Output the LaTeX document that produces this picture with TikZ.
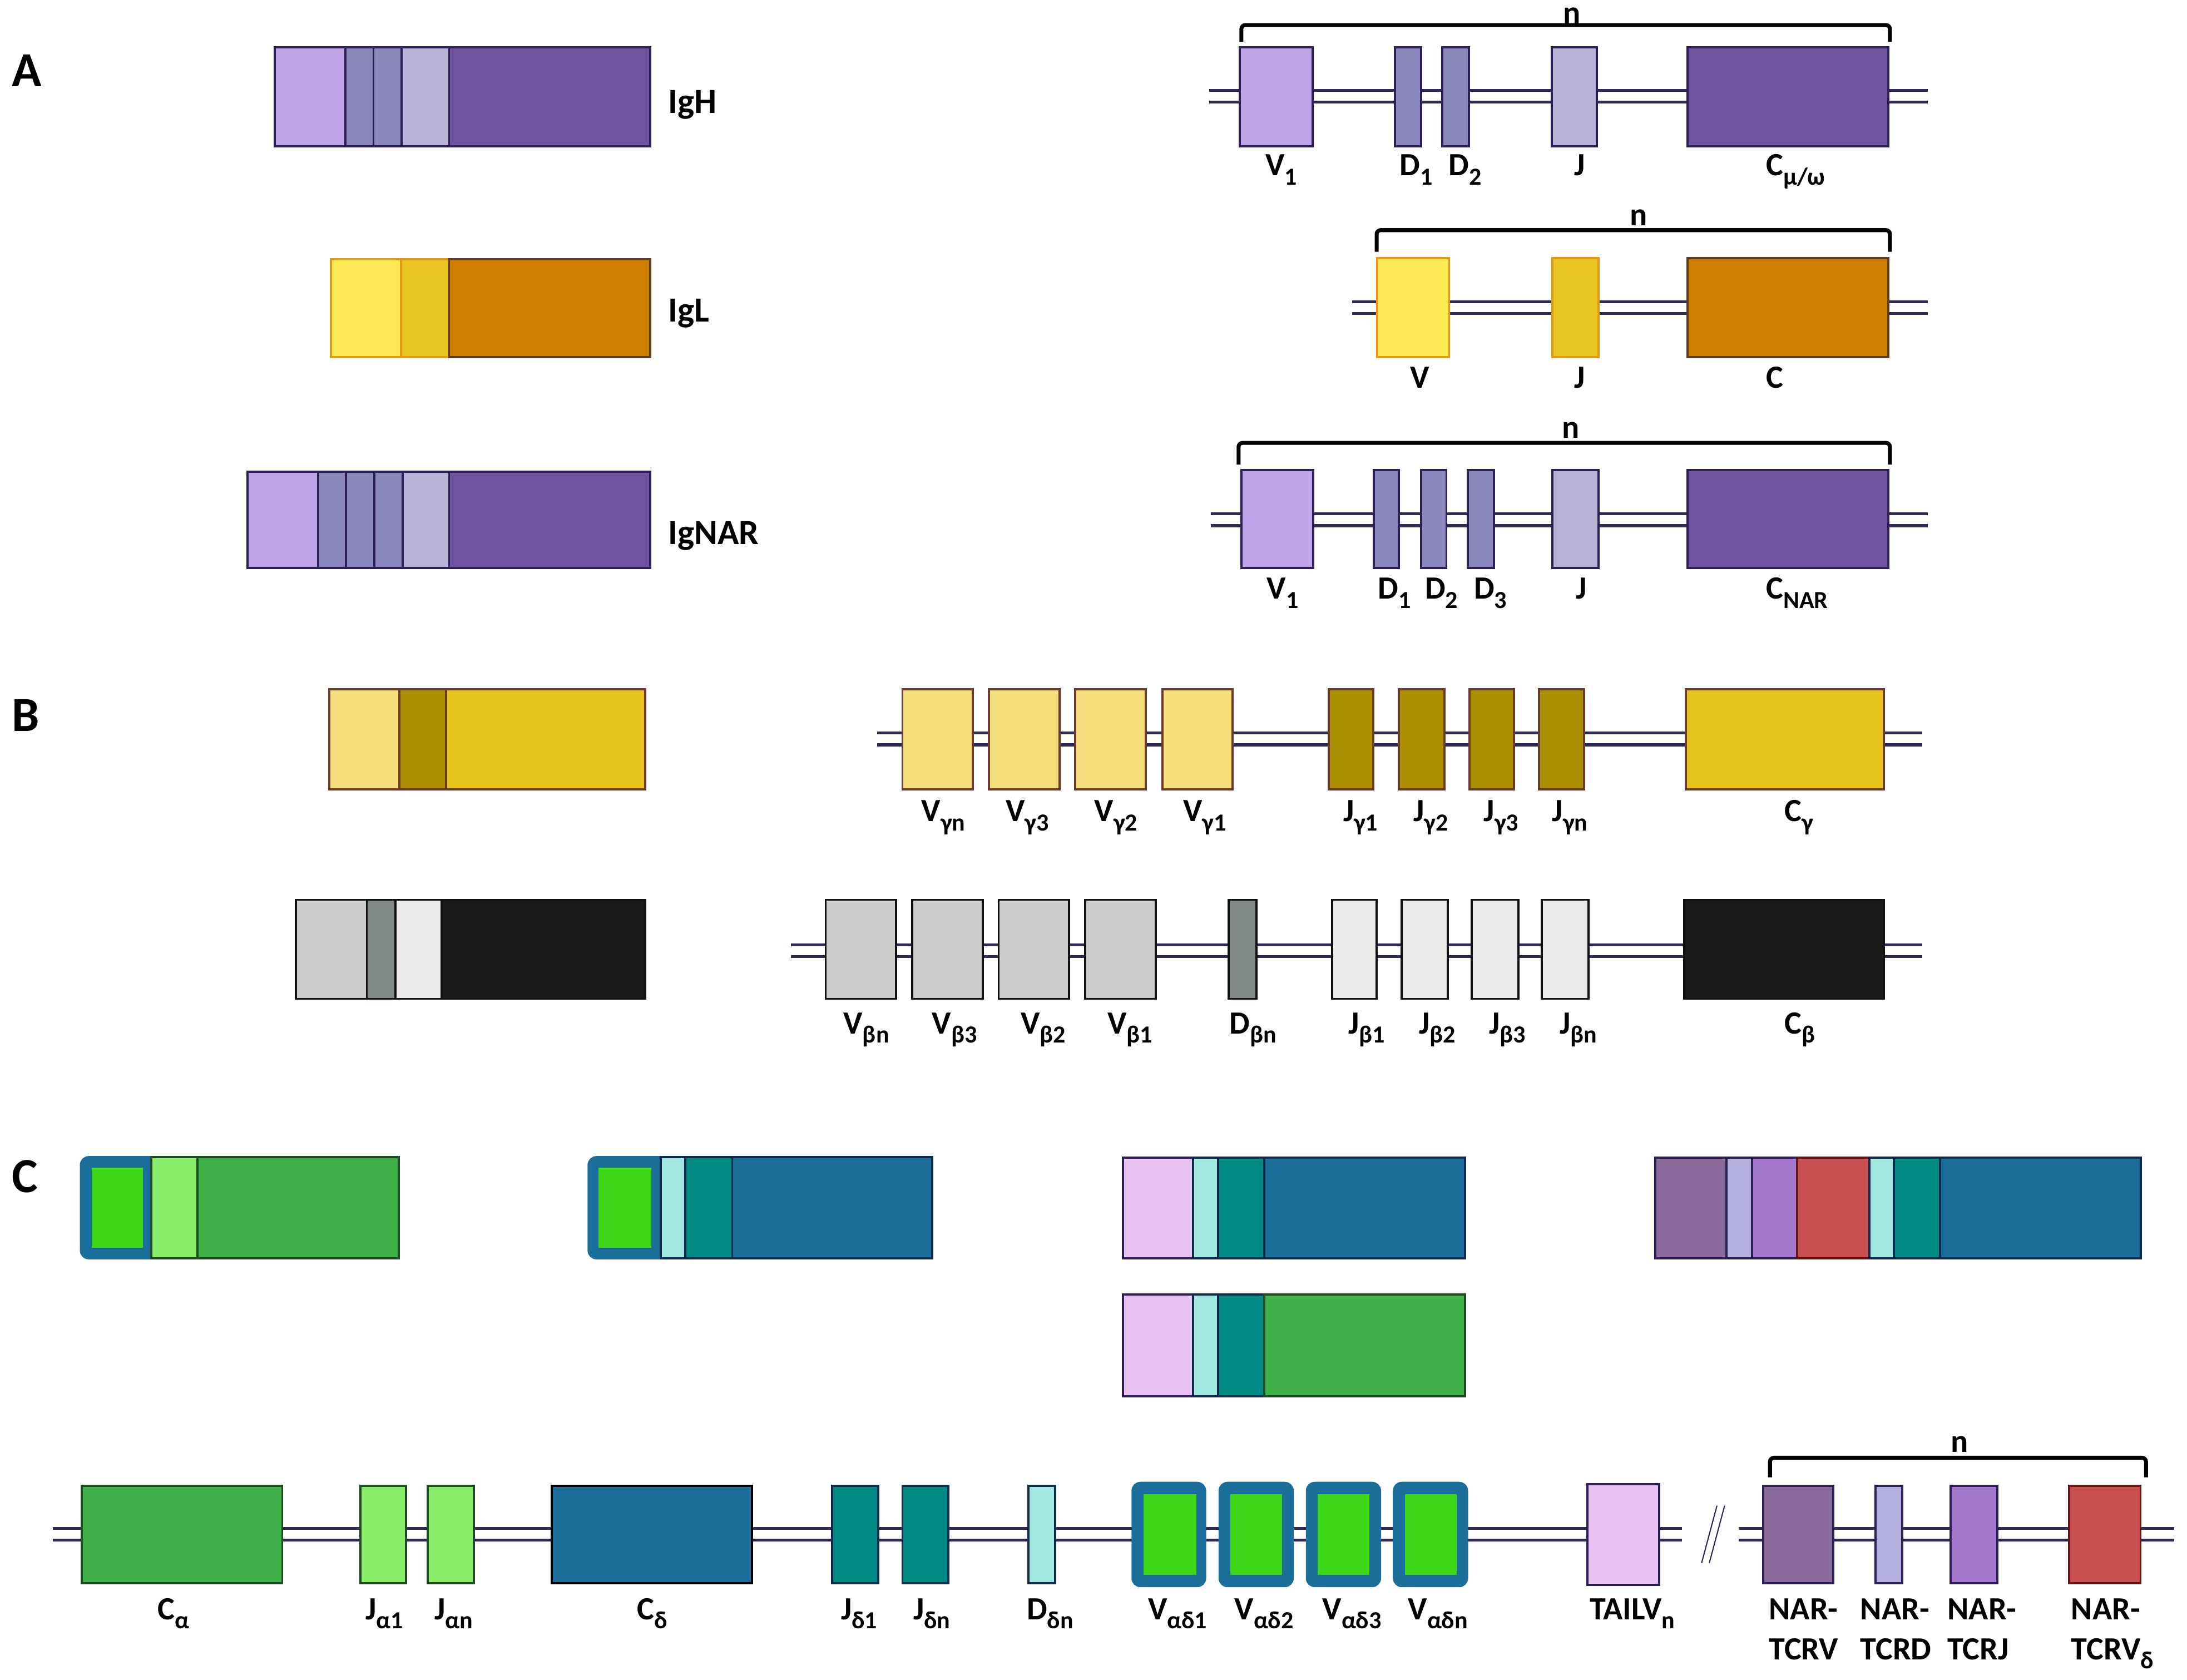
\documentclass[tikz,border=0pt]{standalone}
\usepackage{fontspec}
\setmainfont{Carlito}
\definecolor{aV}{HTML}{BFA5E8}\definecolor{aD}{HTML}{8A87BC}\definecolor{aJ}{HTML}{B9B3D8}
\definecolor{aC}{HTML}{7054A0}\definecolor{aB}{HTML}{2B1F55}
\definecolor{lV}{HTML}{FFE955}\definecolor{lJ}{HTML}{E8C520}\definecolor{lC}{HTML}{D08000}
\definecolor{lO}{HTML}{E39A12}\definecolor{lBr}{HTML}{5E3A1E}
\definecolor{gV}{HTML}{F5DF7A}\definecolor{gJ}{HTML}{AD8F05}\definecolor{gC}{HTML}{E8C41E}\definecolor{gB}{HTML}{6B3A2A}
\definecolor{bV}{HTML}{CCCCCC}\definecolor{bD}{HTML}{838A8A}\definecolor{bJ}{HTML}{EBEBEB}\definecolor{bC}{HTML}{1A1A1A}\definecolor{bB}{HTML}{111111}
\definecolor{caG}{HTML}{40B048}\definecolor{jaG}{HTML}{88EE6A}\definecolor{vG}{HTML}{3DD617}\definecolor{vF}{HTML}{1B6E9A}
\definecolor{cdB}{HTML}{1B6E9A}\definecolor{jdT}{HTML}{008C84}\definecolor{ddC}{HTML}{A0E8E0}\definecolor{tP}{HTML}{E8C2F2}
\definecolor{nV}{HTML}{8A6A9A}\definecolor{nD}{HTML}{B4B0E0}\definecolor{nJ}{HTML}{A478CE}\definecolor{nR}{HTML}{C85050}
\definecolor{gBd}{HTML}{1F4A22}\definecolor{bBd}{HTML}{0F2A4A}\definecolor{rBd}{HTML}{6A1515}\definecolor{bbcol}{HTML}{2E2A55}
\newcommand\genebox[8][]{\node[seg,fill=#7,draw=#8,minimum width={(#4-#3)*0.025cm},minimum height={(#6-#5)*0.025cm},#1] (#2) at ({(#3+#4)/2},{(#5+#6)/2}) {};}
\newcommand\glab[4]{\node[lbl] (#1) at (#2,#3) {#4};}
\newcommand\gsub[1]{\raisebox{-0.28em}{\fontsize{12.5}{13}\selectfont #1}}
\begin{document}
\begin{tikzpicture}[x=0.025cm,y=-0.025cm,
  seg/.style={rectangle,inner sep=0pt,outer sep=0pt,line width=1.1pt},
  lbl/.style={font=\fontsize{16.5}{19}\selectfont\bfseries,inner sep=0pt,anchor=base west},
  plbl/.style={font=\fontsize{18}{21}\selectfont\bfseries,inner sep=0pt,anchor=base west},
  panel/.style={font=\fontsize{25}{30}\selectfont\bfseries,inner sep=0pt,anchor=base west},
  nlbl/.style={font=\fontsize{16.5}{19}\selectfont\bfseries,inner sep=0pt,anchor=base},
  bb/.style={draw=bbcol,line width=1.5pt,double=white,double distance=4.6pt},
  brk/.style={draw=black,line width=2pt,rounded corners=2pt}]
\useasboundingbox (0,0) rectangle (1568,1204);
% ---------------- Panel A ----------------
\node[panel] (pA) at (8.3,62) {A};
% IgH protein
\genebox{pHv}{197}{247.5}{34}{105}{aV}{aB}
\genebox{pHd1}{247.5}{267.8}{34}{105}{aD}{aB}
\genebox{pHd2}{267.8}{288}{34}{105}{aD}{aB}
\genebox{pHj}{288}{322}{34}{105}{aJ}{aB}
\genebox{pHc}{322}{466}{34}{105}{aC}{aB}
\node[plbl] (tIgH) at (478.8,81) {IgH};
% IgL protein
\genebox{pLv}{237.4}{287.6}{186}{256}{lV}{lO}
\genebox{pLj}{287.6}{322}{186}{256}{lJ}{lO}
\genebox{pLc}{322}{466}{186}{256}{lC}{lBr}
\node[plbl] (tIgL) at (478.8,230.8) {IgL};
% IgNAR protein
\genebox{pNv}{177.5}{228}{338}{407}{aV}{aB}
\genebox{pNd1}{228}{248}{338}{407}{aD}{aB}
\genebox{pNd2}{248}{268.4}{338}{407}{aD}{aB}
\genebox{pNd3}{268.4}{288.6}{338}{407}{aD}{aB}
\genebox{pNj}{288.6}{322}{338}{407}{aJ}{aB}
\genebox{pNc}{322}{466}{338}{407}{aC}{aB}
\node[plbl] (tIgNAR) at (478.8,390.2) {IgNAR};
% IgH locus
\coordinate (r1L) at (867,69); \coordinate (r1R) at (1382,69);
\draw[bb] (r1L) -- (r1R);
\genebox{h1v}{889}{941}{34}{105}{aV}{aB}
\genebox{h1d1}{1000}{1019}{34}{105}{aD}{aB}
\genebox{h1d2}{1034}{1053}{34}{105}{aD}{aB}
\genebox{h1j}{1112.6}{1145}{34}{105}{aJ}{aB}
\genebox{h1c}{1210}{1354}{34}{105}{aC}{aB}
\glab{lh1v}{907}{126}{V\gsub{1}}
\glab{lh1d1}{1003.3}{126}{D\gsub{1}}
\glab{lh1d2}{1038.3}{126}{D\gsub{2}}
\glab{lh1j}{1128.5}{126}{J}
\glab{lh1c}{1266}{126}{C\gsub{μ/ω}}
\coordinate (b1a) at (890,30); \coordinate (b1b) at (1355,30);
\draw[brk] (b1a) -- ++(0,-12) -| (b1b);
\node[nlbl] (n1) at (1127,17) {n};
% IgL locus
\coordinate (r2L) at (969.6,220.5); \coordinate (r2R) at (1382,220.5);
\draw[bb] (r2L) -- (r2R);
\genebox{h2v}{987.5}{1039}{185}{256}{lV}{lO}
\genebox{h2j}{1113}{1146}{185}{256}{lJ}{lO}
\genebox{h2c}{1210}{1354}{185}{256}{lC}{lBr}
\glab{lh2v}{1010.9}{278.3}{V}
\glab{lh2j}{1128.5}{278.3}{J}
\glab{lh2c}{1266}{278.3}{C}
\coordinate (b2a) at (987,180.5); \coordinate (b2b) at (1355,180.5);
\draw[brk] (b2a) -- ++(0,-15.5) -| (b2b);
\node[nlbl] (n2) at (1175,161.7) {n};
% IgNAR locus
\coordinate (r3L) at (868,372.5); \coordinate (r3R) at (1382,372.5);
\draw[bb] (r3L) -- (r3R);
\genebox{h3v}{890}{941.5}{337}{407}{aV}{aB}
\genebox{h3d1}{985}{1003}{337}{407}{aD}{aB}
\genebox{h3d2}{1019}{1037}{337}{407}{aD}{aB}
\genebox{h3d3}{1052.5}{1071}{337}{407}{aD}{aB}
\genebox{h3j}{1113}{1146}{337}{407}{aJ}{aB}
\genebox{h3c}{1210}{1354}{337}{407}{aC}{aB}
\glab{lh3v}{908}{429.4}{V\gsub{1}}
\glab{lh3d1}{987.8}{429.4}{D\gsub{1}}
\glab{lh3d2}{1021.5}{429.4}{D\gsub{2}}
\glab{lh3d3}{1056.5}{429.4}{D\gsub{3}}
\glab{lh3j}{1129.5}{429.4}{J}
\glab{lh3c}{1266}{429.4}{C\gsub{NAR}}
\coordinate (b3a) at (888,333); \coordinate (b3b) at (1355,333);
\draw[brk] (b3a) -- ++(0,-15.5) -| (b3b);
\node[nlbl] (n3) at (1126,313.9) {n};
% ---------------- Panel B ----------------
\node[panel] (pB) at (8.3,524) {B};
% gamma protein
\genebox{pGv}{236}{286.4}{494}{566}{gV}{gB}
\genebox{pGj}{286.4}{319.8}{494}{566}{gJ}{gB}
\genebox{pGc}{319.8}{462.6}{494}{566}{gC}{gB}
% gamma locus
\coordinate (r4L) at (629,529.7); \coordinate (r4R) at (1378,529.7);
\draw[bb] (r4L) -- (r4R);
\genebox{gvn}{647}{697.5}{494}{566}{gV}{gB}
\genebox{gv3}{709}{759.6}{494}{566}{gV}{gB}
\genebox{gv2}{771}{821.5}{494}{566}{gV}{gB}
\genebox{gv1}{833.4}{883.7}{494}{566}{gV}{gB}
\genebox{gj1}{952.7}{984.6}{494}{566}{gJ}{gB}
\genebox{gj2}{1003}{1035.6}{494}{566}{gJ}{gB}
\genebox{gj3}{1053.6}{1085.5}{494}{566}{gJ}{gB}
\genebox{gjn}{1103.4}{1135.7}{494}{566}{gJ}{gB}
\genebox{gc}{1208.7}{1350.7}{494}{566}{gC}{gB}
\glab{lgvn}{660.4}{588.9}{V\gsub{γn}}
\glab{lgv3}{720.8}{588.9}{V\gsub{γ3}}
\glab{lgv2}{784.4}{588.9}{V\gsub{γ2}}
\glab{lgv1}{848}{588.9}{V\gsub{γ1}}
\glab{lgj1}{962.8}{588.9}{J\gsub{γ1}}
\glab{lgj2}{1013.3}{588.9}{J\gsub{γ2}}
\glab{lgj3}{1063.6}{588.9}{J\gsub{γ3}}
\glab{lgjn}{1112.6}{588.9}{J\gsub{γn}}
\glab{lgc}{1279.2}{588.9}{C\gsub{γ}}
% beta protein
\genebox{pBv}{212}{263}{645}{716}{bV}{bB}
\genebox{pBd}{263}{283.5}{645}{716}{bD}{bB}
\genebox{pBj}{283.5}{316.6}{645}{716}{bJ}{bB}
\genebox{pBc}{316.6}{462.6}{645}{716}{bC}{bB}
% beta locus
\coordinate (r5L) at (567,681.5); \coordinate (r5R) at (1378,681.5);
\draw[bb] (r5L) -- (r5R);
\genebox{bvn}{592}{642.5}{645}{716}{bV}{bB}
\genebox{bv3}{654}{704.6}{645}{716}{bV}{bB}
\genebox{bv2}{716}{766.5}{645}{716}{bV}{bB}
\genebox{bv1}{778}{828.6}{645}{716}{bV}{bB}
\genebox{bdn}{881}{901}{645}{716}{bD}{bB}
\genebox{bj1}{955}{987}{645}{716}{bJ}{bB}
\genebox{bj2}{1005}{1038}{645}{716}{bJ}{bB}
\genebox{bj3}{1055}{1088.6}{645}{716}{bJ}{bB}
\genebox{bjn}{1105.4}{1139}{645}{716}{bJ}{bB}
\genebox{bc}{1207.6}{1350.7}{645}{716}{bC}{bB}
\glab{lbvn}{604.5}{741.1}{V\gsub{βn}}
\glab{lbv3}{668}{741.1}{V\gsub{β3}}
\glab{lbv2}{731.7}{741.1}{V\gsub{β2}}
\glab{lbv1}{793.7}{741.1}{V\gsub{β1}}
\glab{lbdn}{881.3}{741.1}{D\gsub{βn}}
\glab{lbj1}{966.6}{741.1}{J\gsub{β1}}
\glab{lbj2}{1017}{741.1}{J\gsub{β2}}
\glab{lbj3}{1067.5}{741.1}{J\gsub{β3}}
\glab{lbjn}{1118}{741.1}{J\gsub{βn}}
\glab{lbc}{1279.2}{741.1}{C\gsub{β}}
% ---------------- Panel C ----------------
\node[panel] (pC) at (8.3,854.6) {C};
% protein 1 (alpha)
\genebox[rounded corners=4pt]{p1f}{58}{118}{829.5}{902}{vF}{vF}
\genebox{p1i}{66.4}{101.6}{838}{893.7}{vG}{vG}
\genebox{p1j}{108.5}{141.5}{829.5}{902}{jaG}{gBd}
\genebox{p1c}{141.5}{286}{829.5}{902}{caG}{gBd}
% protein 2 (delta)
\genebox[rounded corners=4pt]{p2f}{422}{482}{829.5}{902}{vF}{vF}
\genebox{p2i}{430}{466}{838}{893.7}{vG}{vG}
\genebox{p2d}{473.8}{491.3}{829.5}{902}{ddC}{bBd}
\genebox{p2j}{491.3}{525}{829.5}{902}{jdT}{bBd}
\genebox{p2c}{525}{668.4}{829.5}{902}{cdB}{bBd}
% protein 3 (TAILV delta)
\genebox{p3v}{805}{855.4}{830}{902}{tP}{aB}
\genebox{p3d}{855.4}{873.3}{830}{902}{ddC}{bBd}
\genebox{p3j}{873.3}{906.4}{830}{902}{jdT}{bBd}
\genebox{p3c}{906.4}{1050.4}{830}{902}{cdB}{bBd}
% protein 4 (TAILV alpha)
\genebox{p4v}{805}{855.4}{928}{1001}{tP}{aB}
\genebox{p4d}{855.4}{873.3}{928}{1001}{ddC}{bBd}
\genebox{p4j}{873.3}{906.4}{928}{1001}{jdT}{bBd}
\genebox{p4c}{906.4}{1050.4}{928}{1001}{caG}{gBd}
% protein 5 (NAR-TCR)
\genebox{p5v}{1186.7}{1237.8}{830}{902}{nV}{aB}
\genebox{p5d}{1237.8}{1256.2}{830}{902}{nD}{aB}
\genebox{p5j}{1256.2}{1288.4}{830}{902}{nJ}{aB}
\genebox{p5vd}{1288.4}{1340.4}{830}{902}{nR}{rBd}
\genebox{p5dd}{1340.4}{1357.8}{830}{902}{ddC}{bBd}
\genebox{p5jd}{1357.8}{1391}{830}{902}{jdT}{bBd}
\genebox{p5c}{1391}{1535}{830}{902}{cdB}{bBd}
% TCR alpha/delta locus
\coordinate (r6L) at (38,1099.8); \coordinate (r6M) at (1206,1099.8);
\coordinate (r6N) at (1246.4,1099.8); \coordinate (r6R) at (1559,1099.8);
\draw[bb] (r6L) -- (r6M);
\draw[bb] (r6N) -- (r6R);
\coordinate (s1a) at (1220,1120.4); \coordinate (s1b) at (1231,1079.3);
\coordinate (s2a) at (1225.5,1120.4); \coordinate (s2b) at (1236.5,1079.3);
\draw[bbcol,line width=0.6pt] (s1a) -- (s1b);
\draw[bbcol,line width=0.6pt] (s2a) -- (s2b);
\genebox{ca}{58.5}{202.4}{1065}{1135}{caG}{gBd}
\genebox{ja1}{258.4}{291}{1065}{1135}{jaG}{gBd}
\genebox{jan}{306.7}{339.8}{1065}{1135}{jaG}{gBd}
\genebox{cd}{395.7}{539.2}{1065}{1135}{cdB}{black}
\genebox{jd1}{596.6}{629.7}{1065}{1135}{jdT}{bBd}
\genebox{jdn}{647}{680}{1065}{1135}{jdT}{bBd}
\genebox{ddn}{737.5}{756.4}{1065}{1135}{ddC}{bBd}
\genebox[rounded corners=4pt]{v1f}{812}{864}{1063}{1137}{vF}{vF}
\genebox{v1i}{820.5}{856.8}{1072}{1128}{vG}{vG}
\genebox[rounded corners=4pt]{v2f}{874.4}{926.8}{1063}{1137}{vF}{vF}
\genebox{v2i}{882.9}{918.6}{1072}{1128}{vG}{vG}
\genebox[rounded corners=4pt]{v3f}{937}{989.4}{1063}{1137}{vF}{vF}
\genebox{v3i}{945.5}{981.2}{1072}{1128}{vG}{vG}
\genebox[rounded corners=4pt]{vnf}{999.4}{1051.8}{1063}{1137}{vF}{vF}
\genebox{vni}{1007.9}{1043.6}{1072}{1128}{vG}{vG}
\genebox{tv}{1138}{1189.5}{1064}{1136}{tP}{aB}
\genebox{ntv}{1264}{1314.4}{1065}{1135}{nV}{aB}
\genebox{ntd}{1344.7}{1363.8}{1065}{1135}{nD}{aB}
\genebox{ntj}{1398.5}{1431.9}{1065}{1135}{nJ}{aB}
\genebox{ntvd}{1483.3}{1534.7}{1065}{1135}{nR}{rBd}
\coordinate (b6a) at (1269,1059); \coordinate (b6b) at (1538.6,1059);
\draw[brk] (b6a) -- ++(0,-14) -| (b6b);
\node[nlbl] (n6) at (1405,1041) {n};
\glab{lca}{112.9}{1161}{C\gsub{α}}
\glab{lja1}{261.9}{1161}{J\gsub{α1}}
\glab{ljan}{311.3}{1161}{J\gsub{αn}}
\glab{lcd}{456.7}{1161}{C\gsub{δ}}
\glab{ljd1}{602.7}{1161}{J\gsub{δ1}}
\glab{ljdn}{654.6}{1161}{J\gsub{δn}}
\glab{lddn}{735.9}{1161}{D\gsub{δn}}
\glab{lv1}{823}{1161}{V\gsub{αδ1}}
\glab{lv2}{885}{1161}{V\gsub{αδ2}}
\glab{lv3}{948}{1161}{V\gsub{αδ3}}
\glab{lvn}{1009.4}{1161}{V\gsub{αδn}}
\glab{ltv}{1139.5}{1161}{TAILV\gsub{n}}
\glab{lntv}{1268}{1161}{NAR-}
\glab{lntd}{1333.5}{1161}{NAR-}
\glab{lntj}{1396}{1161}{NAR-}
\glab{lntvd}{1484.7}{1161}{NAR-}
\glab{lntv2}{1268}{1189.6}{TCRV}
\glab{lntd2}{1333.5}{1189.6}{TCRD}
\glab{lntj2}{1396}{1189.6}{TCRJ}
\glab{lntvd2}{1484.7}{1189.6}{TCRV\gsub{δ}}
\end{tikzpicture}
\end{document}
